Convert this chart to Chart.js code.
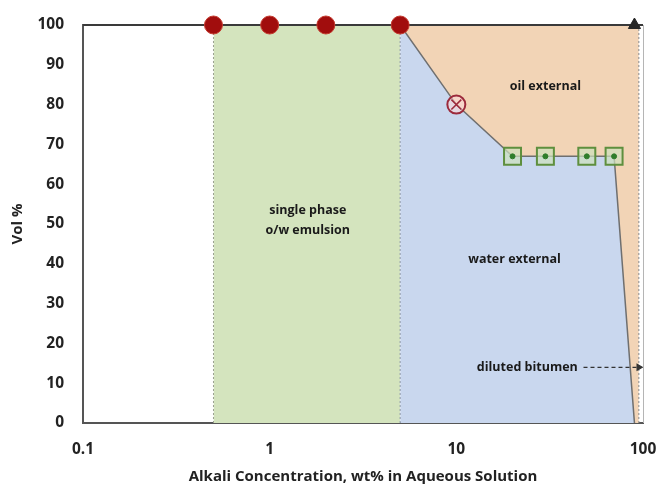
<!DOCTYPE html>
<html>
<head>
<meta charset="utf-8">
<script src="https://cdn.jsdelivr.net/npm/chart.js@4.4.1/dist/chart.umd.min.js"></script>
<style>
  html, body { margin: 0; padding: 0; background: #fff; }
  #wrap { width: 660px; height: 484px; }
</style>
</head>
<body>
<div id="wrap"><canvas id="grafico"></canvas></div>
<script>
// phase diagram data (x = alkali wt%, y = vol %)
const emulsionX = [0.5, 1, 2, 5];
const emulsionY = [100, 100, 100, 100];
const crossX = [10];
const crossY = [80];
const squareX = [20, 30, 50, 70];
const squareY = [67, 67, 67, 67];
const bitumenX = [90];
const bitumenY = [100];
const boundaryX = [5, 10, 20, 70, 90];
const boundaryY = [100, 80, 67, 67, 0];
const singlePhaseX = [0.5, 5];
const dilutedLimit = 95;
const arrowX = [48, 95];
const arrowY = [14, 14];
const xTicks = [0.1, 1, 10, 100];
const yTicks = [0, 10, 20, 30, 40, 50, 60, 70, 80, 90, 100];

const pts = (xs, ys) => xs.map((x, i) => ({ x: x, y: ys[i] }));

const notes = [
  { text: 'oil external', x: 30, y: 84.5 },
  { text: 'water external', x: 20.5, y: 41 },
  { text: 'single phase', x: 1.6, y: 53.5 },
  { text: 'o/w emulsion', x: 1.6, y: 48.5 },
  { text: 'diluted bitumen', x: 24, y: 14 }
];

const notePlugin = {
  id: 'notes',
  afterDatasetsDraw(chart) {
    const ctx = chart.ctx;
    const xs = chart.scales.x, ys = chart.scales.y;
    ctx.save();
    ctx.font = 'bold 12.5px "Open Sans"';
    ctx.fillStyle = '#1a1a1a';
    ctx.textAlign = 'center';
    ctx.textBaseline = 'middle';
    notes.forEach(n => ctx.fillText(n.text, xs.getPixelForValue(n.x), ys.getPixelForValue(n.y)));
    // light right frame
    const a = chart.chartArea;
    ctx.strokeStyle = '#b5b5b5';
    ctx.lineWidth = 1;
    ctx.beginPath();
    ctx.moveTo(a.right + 0.5, a.top);
    ctx.lineTo(a.right + 0.5, a.bottom);
    ctx.stroke();
    ctx.restore();
  }
};

const boundary = pts(boundaryX, boundaryY);
const lastB = boundary[boundary.length - 1];

const chartData = {
  datasets: [
    {
      label: 'single phase',
      data: pts(emulsionX, emulsionY),
      showLine: false,
      pointStyle: 'circle',
      pointRadius: 9,
      backgroundColor: '#a10d0d',
      borderColor: '#c43a2e',
      borderWidth: 1,
      clip: false
    },
    {
      label: 'transition',
      data: pts(crossX, crossY),
      showLine: false,
      pointStyle: 'crossRot',
      pointRadius: 7,
      borderColor: '#9c2a3c',
      borderWidth: 1.5
    },
    {
      label: 'transition ring',
      data: pts(crossX, crossY),
      showLine: false,
      pointStyle: 'circle',
      pointRadius: 9,
      backgroundColor: 'rgba(250,215,215,0.6)',
      borderColor: '#9c2a3c',
      borderWidth: 2
    },
    {
      label: 'squares dot',
      data: pts(squareX, squareY),
      showLine: false,
      pointStyle: 'circle',
      pointRadius: 2.5,
      backgroundColor: '#2f7d2a',
      borderColor: '#2f7d2a',
      borderWidth: 1
    },
    {
      label: 'squares',
      data: pts(squareX, squareY),
      showLine: false,
      pointStyle: 'rect',
      pointRadius: 12,
      backgroundColor: 'rgba(205,225,190,0.7)',
      borderColor: '#5e8f3e',
      borderWidth: 2
    },
    {
      label: 'bitumen',
      data: pts(bitumenX, bitumenY),
      showLine: false,
      pointStyle: 'triangle',
      pointRadius: 7,
      backgroundColor: '#262626',
      borderColor: '#262626',
      clip: false
    },
    {
      label: 'arrow',
      data: pts(arrowX, arrowY),
      showLine: true,
      borderColor: '#333',
      borderWidth: 1.2,
      borderDash: [4, 3],
      pointStyle: 'triangle',
      rotation: 90,
      pointRadius: [0, 3.5],
      backgroundColor: '#333'
    },
    {
      label: 'boundary',
      data: boundary,
      showLine: true,
      borderColor: '#6f6f6f',
      borderWidth: 1.5,
      pointRadius: 0
    },
    {
      label: 'top',
      data: pts([0.1, 100], [100, 100]),
      showLine: true,
      borderColor: '#3a3a3a',
      borderWidth: 2,
      pointRadius: 0,
      clip: false
    },
    {
      label: 'left limit',
      data: pts([singlePhaseX[0], singlePhaseX[0]], [0, 100]),
      showLine: true,
      borderColor: '#9aa08f',
      borderWidth: 1,
      borderDash: [2, 2],
      pointRadius: 0
    },
    {
      label: 'mid limit',
      data: pts([singlePhaseX[1], singlePhaseX[1]], [0, 100]),
      showLine: true,
      borderColor: '#8b96a8',
      borderWidth: 1,
      borderDash: [2, 2],
      pointRadius: 0
    },
    {
      label: 'right limit',
      data: pts([dilutedLimit, dilutedLimit], [0, 100]),
      showLine: true,
      borderColor: '#8a8a8a',
      borderWidth: 1,
      borderDash: [2, 2],
      pointRadius: 0
    },
    {
      label: 'water external',
      data: boundary,
      showLine: true,
      borderWidth: 0,
      pointRadius: 0,
      backgroundColor: '#c9d7ee',
      fill: 'origin'
    },
    {
      label: 'oil external',
      data: boundary.concat([{ x: dilutedLimit, y: lastB.y }]),
      showLine: true,
      borderWidth: 0,
      pointRadius: 0,
      backgroundColor: '#f2d4b6',
      fill: 'end'
    },
    {
      label: 'emulsion',
      data: pts(singlePhaseX, [100, 100]),
      showLine: true,
      borderWidth: 0,
      pointRadius: 0,
      backgroundColor: '#d4e4be',
      fill: 'origin'
    }
  ]
};

const tickFont = { family: '"Open Sans"', size: 15.5, weight: 'bold' };
const titleFont = { family: '"Open Sans"', size: 15, weight: 'bold', lineHeight: 1 };

const options = {
  responsive: false,
  animation: false,
  layout: { padding: { top: 25, right: 17, left: 0, bottom: 0 } },
  plugins: {
    legend: { display: false },
    tooltip: { enabled: false }
  },
  scales: {
    x: {
      type: 'logarithmic',
      min: 0.1,
      max: 100,
      afterBuildTicks: s => { s.ticks = xTicks.map(v => ({ value: v })); },
      afterFit: s => { s.height = 61; s.paddingLeft = 0; s.paddingRight = 0; },
      grid: { display: false, drawTicks: false },
      border: { display: true, color: '#555', width: 2 },
      ticks: {
        font: tickFont,
        color: '#222',
        padding: 17,
        maxRotation: 0,
        callback: v => String(v)
      },
      title: { display: true, text: 'Alkali Concentration, wt% in Aqueous Solution', font: titleFont, color: '#222', padding: 0 }
    },
    y: {
      min: 0,
      max: 100,
      afterBuildTicks: s => { s.ticks = yTicks.map(v => ({ value: v })); },
      afterFit: s => { s.width = 83; s.paddingTop = 0; s.paddingBottom = 0; },
      grid: { display: false, drawTicks: false },
      border: { display: true, color: '#555', width: 2 },
      ticks: { font: tickFont, color: '#222', padding: 19 },
      title: { display: true, text: 'Vol %', font: titleFont, color: '#222', padding: { top: 10, bottom: 0 } }
    }
  }
};

const canvas = document.getElementById('grafico');
canvas.width = 660;
canvas.height = 484;
const myChart = new Chart(canvas, {
  type: 'scatter',
  data: chartData,
  options: options,
  plugins: [notePlugin]
});
</script>
</body>
</html>
